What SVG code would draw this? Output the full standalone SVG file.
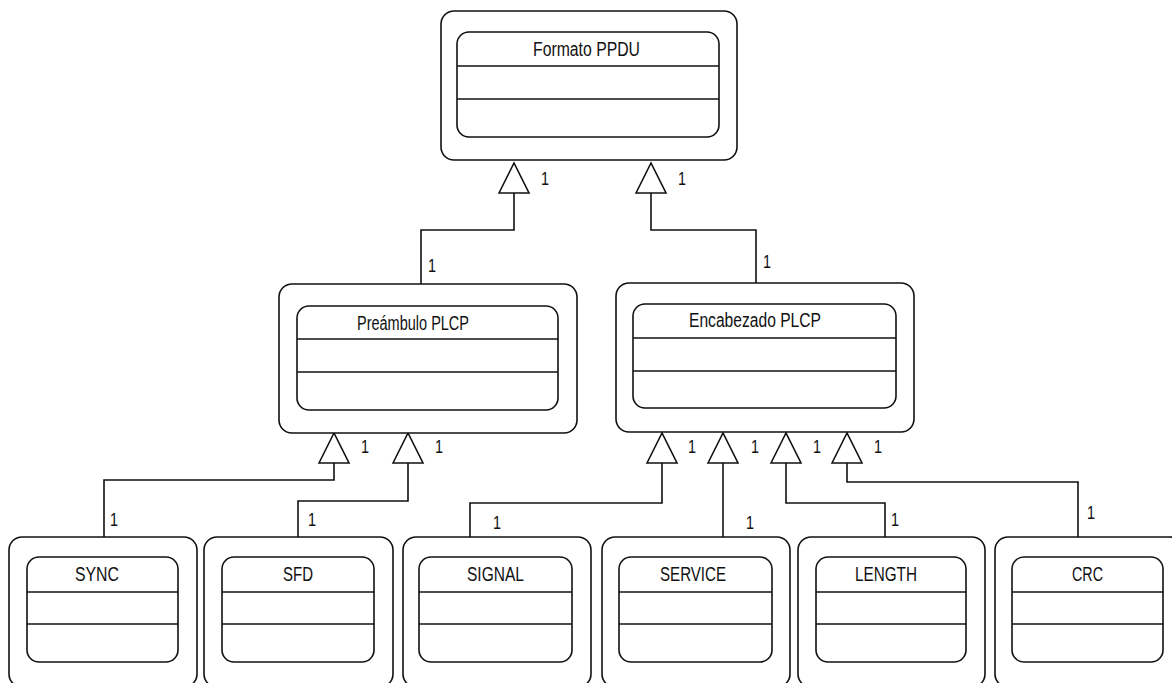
<svg xmlns="http://www.w3.org/2000/svg" width="1172" height="683" viewBox="0 0 1172 683">
  <style>
    .outer { fill: #fff; stroke: #111; stroke-width: 1.6; }
    .inner { fill: #fff; stroke: #111; stroke-width: 1.6; }
    .sep { stroke: #111; stroke-width: 1.6; }
    .name { font-family: "Liberation Sans", Arial, sans-serif; font-size: 16.5px; fill: #111; }
    .mult { font-family: "Liberation Sans", Arial, sans-serif; font-size: 16px; fill: #111; }
    .edge { fill: none; stroke: #111; stroke-width: 1.6; marker-end: url(#gen); }
  </style>
  <defs>
    <!-- hollow generalization head, base at the path end -->
    <marker id="gen" markerUnits="userSpaceOnUse" markerWidth="34" markerHeight="34" viewBox="-2 -17 34 34" refX="0" refY="0" orient="auto" overflow="visible">
      <path d="M0,-15 L30,0 L0,15 Z" fill="#fff" stroke="#111" stroke-width="1.6"/>
    </marker>
  </defs>
  <rect width="1172" height="683" fill="#fff"/>

  <!-- connectors -->
  <g id="connectors">
    <path class="edge" d="M421,284 V230 H514 V193"/>
    <path class="edge" d="M756,283 V230 H651 V193"/>
    <path class="edge" d="M104,537 V480 H334 V463"/>
    <path class="edge" d="M298,537 V501 H408 V463"/>
    <path class="edge" d="M470,537 V503 H662 V463"/>
    <path class="edge" d="M723,537 V463"/>
    <path class="edge" d="M885,537 V503 H786 V463"/>
    <path class="edge" d="M1078,537 V482 H847 V463"/>
    <!-- multiplicities, stretched vertically like the narrow UI font -->
    <g class="mult">
      <text transform="translate(541,185) scale(0.9,1.2)">1</text>
      <text transform="translate(678,185) scale(0.9,1.2)">1</text>
      <text transform="translate(428,272) scale(0.9,1.2)">1</text>
      <text transform="translate(763,268) scale(0.9,1.2)">1</text>
      <text transform="translate(361,453) scale(0.9,1.2)">1</text>
      <text transform="translate(435,453) scale(0.9,1.2)">1</text>
      <text transform="translate(688,453) scale(0.9,1.2)">1</text>
      <text transform="translate(751,453) scale(0.9,1.2)">1</text>
      <text transform="translate(813,453) scale(0.9,1.2)">1</text>
      <text transform="translate(874,453) scale(0.9,1.2)">1</text>
      <text transform="translate(110,526) scale(0.9,1.2)">1</text>
      <text transform="translate(308,526) scale(0.9,1.2)">1</text>
      <text transform="translate(493,529) scale(0.9,1.2)">1</text>
      <text transform="translate(746,529) scale(0.9,1.2)">1</text>
      <text transform="translate(891,526) scale(0.9,1.2)">1</text>
      <text transform="translate(1087,519) scale(0.9,1.2)">1</text>
    </g>
  </g>

  <!-- top class -->
  <g id="formato-ppdu">
    <rect class="outer" x="441" y="11" width="296" height="149" rx="13"/>
    <rect class="inner" x="457" y="32" width="262" height="105" rx="12"/>
    <line class="sep" x1="457" y1="66" x2="719" y2="66"/>
    <line class="sep" x1="457" y1="99" x2="719" y2="99"/>
    <text class="name" transform="translate(533,56) scale(1,1.2)" textLength="107" lengthAdjust="spacingAndGlyphs">Formato PPDU</text>
  </g>

  <!-- second level -->
  <g id="preambulo-plcp">
    <rect class="outer" x="279" y="284" width="298" height="149" rx="13"/>
    <rect class="inner" x="297" y="306" width="261" height="104" rx="12"/>
    <line class="sep" x1="297" y1="339" x2="558" y2="339"/>
    <line class="sep" x1="297" y1="372" x2="558" y2="372"/>
    <text class="name" transform="translate(357,330) scale(1,1.2)" textLength="112" lengthAdjust="spacingAndGlyphs">Preámbulo PLCP</text>
  </g>

  <g id="encabezado-plcp">
    <rect class="outer" x="616" y="283" width="298" height="149" rx="13"/>
    <rect class="inner" x="633" y="304" width="263" height="104" rx="12"/>
    <line class="sep" x1="633" y1="338" x2="896" y2="338"/>
    <line class="sep" x1="633" y1="371" x2="896" y2="371"/>
    <text class="name" transform="translate(689,327) scale(1,1.2)" textLength="132" lengthAdjust="spacingAndGlyphs">Encabezado PLCP</text>
  </g>

  <!-- field classes -->
  <g id="sync">
    <rect class="outer" x="9" y="537" width="188" height="150" rx="13"/>
    <rect class="inner" x="27" y="557" width="151" height="105" rx="12"/>
    <line class="sep" x1="27" y1="592" x2="178" y2="592"/>
    <line class="sep" x1="27" y1="624" x2="178" y2="624"/>
    <text class="name" transform="translate(75,581) scale(1,1.2)" textLength="44" lengthAdjust="spacingAndGlyphs">SYNC</text>
  </g>

  <g id="sfd">
    <rect class="outer" x="204" y="537" width="189" height="150" rx="13"/>
    <rect class="inner" x="222" y="557" width="152" height="105" rx="12"/>
    <line class="sep" x1="222" y1="592" x2="374" y2="592"/>
    <line class="sep" x1="222" y1="624" x2="374" y2="624"/>
    <text class="name" transform="translate(283,581) scale(1,1.2)" textLength="30" lengthAdjust="spacingAndGlyphs">SFD</text>
  </g>

  <g id="signal">
    <rect class="outer" x="403" y="537" width="188" height="150" rx="13"/>
    <rect class="inner" x="419" y="557" width="153" height="105" rx="12"/>
    <line class="sep" x1="419" y1="592" x2="572" y2="592"/>
    <line class="sep" x1="419" y1="624" x2="572" y2="624"/>
    <text class="name" transform="translate(467,581) scale(1,1.2)" textLength="57" lengthAdjust="spacingAndGlyphs">SIGNAL</text>
  </g>

  <g id="service">
    <rect class="outer" x="602" y="537" width="188" height="150" rx="13"/>
    <rect class="inner" x="619" y="557" width="153" height="105" rx="12"/>
    <line class="sep" x1="619" y1="592" x2="772" y2="592"/>
    <line class="sep" x1="619" y1="624" x2="772" y2="624"/>
    <text class="name" transform="translate(660,581) scale(1,1.2)" textLength="66" lengthAdjust="spacingAndGlyphs">SERVICE</text>
  </g>

  <g id="length">
    <rect class="outer" x="798" y="537" width="187" height="150" rx="13"/>
    <rect class="inner" x="816" y="557" width="150" height="105" rx="12"/>
    <line class="sep" x1="816" y1="592" x2="966" y2="592"/>
    <line class="sep" x1="816" y1="624" x2="966" y2="624"/>
    <text class="name" transform="translate(855,581) scale(1,1.2)" textLength="62" lengthAdjust="spacingAndGlyphs">LENGTH</text>
  </g>

  <g id="crc">
    <rect class="outer" x="995" y="537" width="188" height="150" rx="13"/>
    <rect class="inner" x="1012" y="557" width="151" height="105" rx="12"/>
    <line class="sep" x1="1012" y1="592" x2="1163" y2="592"/>
    <line class="sep" x1="1012" y1="624" x2="1163" y2="624"/>
    <text class="name" transform="translate(1072,581) scale(1,1.2)" textLength="31" lengthAdjust="spacingAndGlyphs">CRC</text>
  </g>
</svg>
